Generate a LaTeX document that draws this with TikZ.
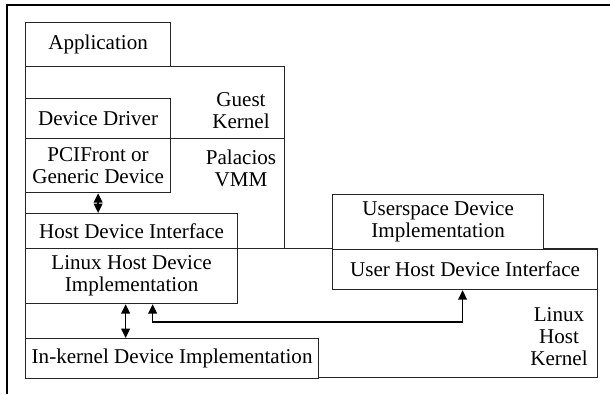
\documentclass[tikz,border=0pt]{standalone}
\usepackage{fontspec}
\setmainfont{Liberation Serif}
\usepackage{tikz}
\usetikzlibrary{arrows.meta,positioning}
\newcommand{\layerfont}{\fontsize{15.8}{16.5}\selectfont}
\tikzset{
  boxsize/.style 2 args={
    minimum width=#1*0.75pt,
    minimum height=#2*0.75pt
  },
  regionbox/.style={
    rectangle,
    draw=black!85,
    line width=1.1pt,
    anchor=north west,
    inner sep=0pt
  },
  layerbox/.style={
    rectangle,
    draw=black!85,
    line width=0.9pt,
    fill=white,
    align=center,
    anchor=north west,
    inner sep=0pt,
    font=\layerfont
  },
  regionlabel/.style={
    align=center,
    inner sep=0pt,
    font=\layerfont
  },
  linkarrow/.style={
    {Triangle[length=7pt,width=6.5pt]}-{Triangle[length=7pt,width=6.5pt]},
    line width=1.1pt,
    draw=black
  }
}

\begin{document}
\begin{tikzpicture}[x=0.75pt,y=-0.75pt]
\useasboundingbox (0,0) rectangle (610,394);
\draw[line width=1.5pt] (7,394) -- (7,5) -- (610,5);

% layers of the stack
\node[regionbox, boxsize={259}{72}] (guest) at (25,66) {};
\node[regionbox, boxsize={259}{110}] (palacios) at (25,138) {};
\node[regionbox, boxsize={572}{129}] (linux) at (25,248) {};
\node[regionlabel] (guestlbl) at (241,111) {Guest\\Kernel};
\node[regionlabel] (palacioslbl) at (241,168) {Palacios\\VMM};
\node[regionlabel] (linuxlbl) at (559,337) {Linux\\Host\\Kernel};

\node[layerbox, boxsize={145}{44}] (app) at (25,22) {Application};
\node[layerbox, boxsize={145}{40}] (drv) at (25,98) {Device Driver};
\node[layerbox, boxsize={145}{54}] (pcif) at (25,138) {PCIFront or\\Generic Device};
\node[layerbox, boxsize={212}{35}] (hdi) at (25,213) {Host Device Interface};
\node[layerbox, boxsize={212}{55}] (lhdi) at (25,248) {Linux Host Device\\Implementation};
\node[layerbox, boxsize={293}{40}] (ikdi) at (25,338) {In-kernel Device Implementation};
\node[layerbox, boxsize={211}{55}] (usdi) at (332,194) {Userspace Device\\Implementation};
\node[layerbox, boxsize={265}{40}] (uhdi) at (332,249) {User Host Device Interface};

\draw[linkarrow] (pcif.south) -- (pcif.south |- hdi.north);
\draw[linkarrow] ([xshift=-4.5pt]lhdi.south) -- ([xshift=-4.5pt]lhdi.south |- ikdi.north);
\draw[linkarrow] ([xshift=15.75pt]lhdi.south) |- ([xshift=-1.9pt,yshift=-24pt]uhdi.south) -- ([xshift=-1.9pt]uhdi.south);
\end{tikzpicture}
\end{document}
